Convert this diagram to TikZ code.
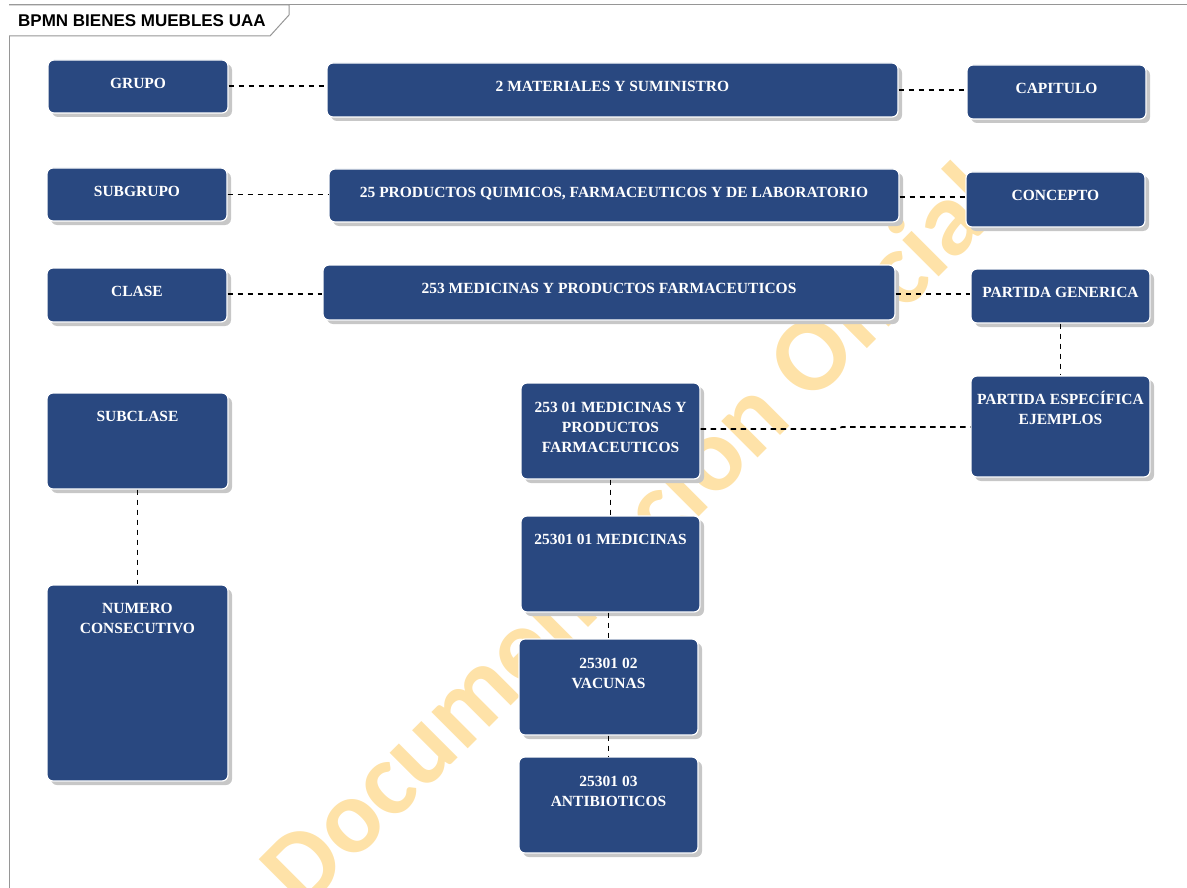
\documentclass[tikz,border=0pt]{standalone}
\usepackage{fontspec}
\setmainfont{Liberation Serif}
\newfontfamily\titlefont{Liberation Sans}
\newfontfamily\markfont{Carlito}
\usetikzlibrary{positioning}
\usetikzlibrary{shadows}

\definecolor{boxblue}{RGB}{41,72,128}
\definecolor{markorange}{RGB}{254,226,168}
\definecolor{framegray}{RGB}{150,150,150}

\tikzset{
	box/.style={rectangle, rounded corners=6pt, fill=boxblue, draw=white, line width=1.2pt, inner sep=0pt,
		drop shadow={shadow xshift=4pt, shadow yshift=-4pt, fill=black!22, opacity=1}},
	boxlabel/.style={anchor=north, inner sep=0pt, text=white, align=center, font=\bfseries\fontsize{15.5}{20}\selectfont},
	link/.style={dash pattern=on 5.5pt off 4.5pt, line width=1.6pt}
}

\begin{document}
\begin{tikzpicture}[x=1pt, y=-1pt]

	\useasboundingbox (0,0) rectangle (1187,888);

	% frame and title tab
	\draw[framegray, line width=1pt] (9,888) -- (9,5) -- (1187,5);
	\draw[framegray, line width=1pt, fill=white] (9,5) -- (289,5) -- (289,15) -- (270,36) -- (9,36);
	\node[anchor=west, inner sep=0pt, font=\titlefont\bfseries\fontsize{17}{20}\selectfont] (titulo) at (18,21) {BPMN BIENES MUEBLES UAA};

	% watermark
	\node[rotate=45, text=markorange, font=\markfont\bfseries\fontsize{106}{106}\selectfont] (marca) at (630,534) {Documentación Oficial};

	% left column
	\node[box, minimum width=180pt, minimum height=53pt] (grupo) at (138,86.5) {};
	\node[box, minimum width=180pt, minimum height=53pt] (subgrupo) at (137,194.5) {};
	\node[box, minimum width=180pt, minimum height=54pt] (clase) at (137,295) {};
	\node[box, minimum width=181pt, minimum height=96pt] (subclase) at (137.5,441) {};
	\node[box, minimum width=181pt, minimum height=196pt] (numero) at (137.5,683) {};

	\node[boxlabel] at ([yshift=-19pt]grupo.north) {GRUPO};
	\node[boxlabel] at ([yshift=-19pt]subgrupo.north) {SUBGRUPO};
	\node[boxlabel] at ([yshift=-19pt]clase.north) {CLASE};
	\node[boxlabel] at ([yshift=-19pt]subclase.north) {SUBCLASE};
	\node[boxlabel] at ([yshift=-19pt]numero.north) {NUMERO\\CONSECUTIVO};

	% middle column
	\node[box, minimum width=571pt, minimum height=54pt] (materiales) at (612.5,90) {};
	\node[box, minimum width=570pt, minimum height=53pt] (productos) at (614,195.5) {};
	\node[box, minimum width=572pt, minimum height=55pt] (medicinas) at (609,292.5) {};
	\node[box, minimum width=179pt, minimum height=96pt] (p25301) at (610.5,431) {};
	\node[box, minimum width=179pt, minimum height=96pt] (med01) at (610.5,564) {};
	\node[box, minimum width=179pt, minimum height=96pt] (vac02) at (608.5,687) {};
	\node[box, minimum width=179pt, minimum height=96pt] (ant03) at (608.5,805) {};

	\node[boxlabel] at ([yshift=-19pt]materiales.north) {2 MATERIALES Y SUMINISTRO};
	\node[boxlabel] at ([yshift=-19pt]productos.north) {25 PRODUCTOS QUIMICOS, FARMACEUTICOS Y DE LABORATORIO};
	\node[boxlabel] at ([yshift=-19pt]medicinas.north) {253 MEDICINAS Y PRODUCTOS FARMACEUTICOS};
	\node[boxlabel] at ([yshift=-20pt]p25301.north) {253 01 MEDICINAS Y\\PRODUCTOS\\FARMACEUTICOS};
	\node[boxlabel] at ([yshift=-19pt]med01.north) {25301 01 MEDICINAS};
	\node[boxlabel] at ([yshift=-20pt]vac02.north) {25301 02\\VACUNAS};
	\node[boxlabel] at ([yshift=-20pt]ant03.north) {25301 03\\ANTIBIOTICOS};

	% right column
	\node[box, minimum width=179pt, minimum height=54pt] (capitulo) at (1056.5,92) {};
	\node[box, minimum width=179pt, minimum height=55pt] (concepto) at (1055.5,199.5) {};
	\node[box, minimum width=179pt, minimum height=54pt] (generica) at (1060.5,296) {};
	\node[box, minimum width=179pt, minimum height=101pt] (especifica) at (1060.5,426.5) {};

	\node[boxlabel] at ([yshift=-19pt]capitulo.north) {CAPITULO};
	\node[boxlabel] at ([yshift=-19pt]concepto.north) {CONCEPTO};
	\node[boxlabel] at ([yshift=-19pt]generica.north) {PARTIDA GENERICA};
	\node[boxlabel] at ([yshift=-16pt]especifica.north) {PARTIDA ESPECÍFICA\\EJEMPLOS};

	% dashed links
	\draw[link] (grupo.east |- 0,86) -- (materiales.west |- 0,86);
	\draw[link] (materiales.east) -- (capitulo.west |- materiales.east);
	\draw[link] (subgrupo.east) -- (productos.west |- subgrupo.east);
	\draw[link] (productos.east |- 0,197) -- (concepto.west |- 0,197);
	\draw[link] (clase.east |- 0,294) -- (medicinas.west |- 0,294);
	\draw[link] (medicinas.east |- 0,294) -- (generica.west |- 0,294);
	\draw[link] (generica.south) -- (especifica.north);

	\coordinate (S1) at (837,429);
	\coordinate (S2) at (842,427);
	\draw[link] (p25301.east |- S1) -- (S1) -- (S2) -- (especifica.west |- S2);

	\draw[link] (subclase.south) -- (numero.north);
	\draw[link] (p25301.south) -- (med01.north);
	\draw[link] (med01.south -| vac02.north) -- (vac02.north);
	\draw[link] (vac02.south) -- (ant03.north);

\end{tikzpicture}
\end{document}
